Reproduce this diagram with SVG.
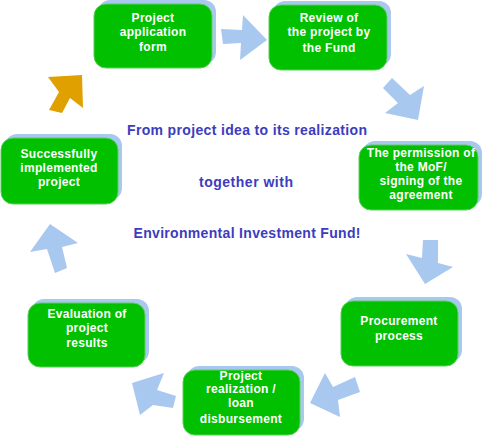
<svg xmlns="http://www.w3.org/2000/svg" width="482" height="444" viewBox="0 0 482 444">
<style>
.sh{fill:#A8C8F0}
.bx{fill:#00C000;stroke:#5CCF5C;stroke-width:1}
.t{font-family:"Liberation Sans",Arial,sans-serif;font-weight:bold;font-size:12px;letter-spacing:0.3px;fill:#FFFFFF;text-anchor:middle}
.c{font-family:"Liberation Sans",Arial,sans-serif;font-weight:bold;font-size:14px;fill:#3C3CBE;text-anchor:middle}
.ar{fill:#A8C8F0}
.or{fill:#E0A000}
</style>
<rect width="482" height="444" fill="#FFFFFF"/>
<g id="connectors">
<polygon class="ar" points="221,29 242,30 243,15 267,40 240,60 241,43 223,44"/>
<polygon class="ar" points="392,78 410,95 424,86 418,120 385,113 398,103 383,88"/>
<polygon class="ar" points="423,240 438,240 438,263 453,267 425,284 406,254 422,258"/>
<polygon class="ar" points="310,403 325,373 333,387 355,377 360,392 338,400 340,417"/>
<polygon class="ar" points="132,383 164,373 157,390 176,396 173,408 153,405 140,415"/>
<polygon class="ar" points="50,224 78,243 62,247 67,268 55,273 47,249 30,252"/>
<polygon class="or" points="48,77 82,75 83,108 70,98 62,113 49,110 59,92"/>
</g>
<g id="n1">
<rect class="sh" x="98" y="0" width="118" height="64" rx="12"/>
<rect class="bx" x="94" y="4" width="118" height="64" rx="12"/>
<text class="t" x="153" y="22">Project</text>
<text class="t" x="153" y="36">application</text>
<text class="t" x="153" y="51">form</text>
</g>
<g id="n2">
<rect class="sh" x="273" y="1" width="118" height="65" rx="12"/>
<rect class="bx" x="269" y="5" width="118" height="65" rx="12"/>
<text class="t" x="329" y="22">Review of</text>
<text class="t" x="329" y="36">the project by</text>
<text class="t" x="329" y="52">the Fund</text>
</g>
<g id="n3">
<rect class="sh" x="363" y="141" width="119" height="65" rx="12"/>
<rect class="bx" x="359" y="145" width="119" height="65" rx="12"/>
<text class="t" x="421" y="157">The permission of</text>
<text class="t" x="421" y="171">the MoF/</text>
<text class="t" x="421" y="185">signing of the</text>
<text class="t" x="421" y="199">agreement</text>
</g>
<g id="n4">
<rect class="sh" x="5" y="134" width="117" height="66" rx="12"/>
<rect class="bx" x="1" y="138" width="117" height="66" rx="12"/>
<text class="t" x="59" y="158">Successfully</text>
<text class="t" x="59" y="172">implemented</text>
<text class="t" x="59" y="186">project</text>
</g>
<g id="n5">
<rect class="sh" x="32" y="299" width="117" height="64" rx="12"/>
<rect class="bx" x="28" y="303" width="117" height="64" rx="12"/>
<text class="t" x="87" y="318">Evaluation of</text>
<text class="t" x="87" y="332">project</text>
<text class="t" x="87" y="347">results</text>
</g>
<g id="n6">
<rect class="sh" x="187" y="366" width="117" height="65" rx="12"/>
<rect class="bx" x="183" y="370" width="117" height="65" rx="12"/>
<text class="t" x="241" y="380">Project</text>
<text class="t" x="241" y="393">realization /</text>
<text class="t" x="241" y="407">loan</text>
<text class="t" x="241" y="423">disbursement</text>
</g>
<g id="n7">
<rect class="sh" x="345" y="297" width="117" height="65" rx="12"/>
<rect class="bx" x="341" y="301" width="117" height="65" rx="12"/>
<text class="t" x="399" y="325">Procurement</text>
<text class="t" x="399" y="340">process</text>
</g>
<g id="center">
<text class="c" x="247" y="135" textLength="240" lengthAdjust="spacing">From project idea to its realization</text>
<text class="c" x="246" y="187" textLength="94" lengthAdjust="spacing">together with</text>
<text class="c" x="247" y="238" textLength="227" lengthAdjust="spacing">Environmental Investment Fund!</text>
</g>
</svg>
